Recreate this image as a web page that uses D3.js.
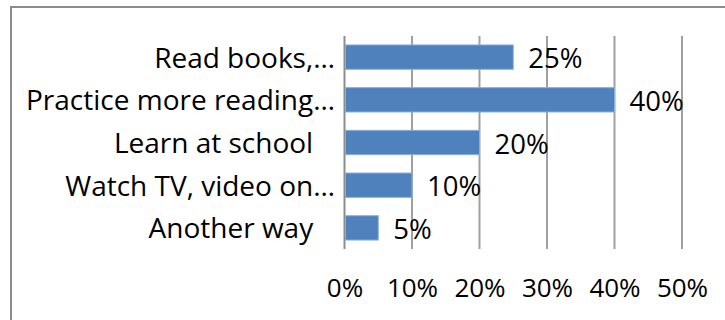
<!DOCTYPE html>
<html>
<head>
<meta charset="utf-8">
<script src="https://cdn.jsdelivr.net/npm/d3@7"></script>
<style>
  html, body { margin: 0; padding: 0; background: #fff; }
  svg { display: block; font-family: "Open Sans", Lato, "Liberation Sans", sans-serif; }
  text { white-space: pre; }
</style>
</head>
<body>
<svg id="chart" width="725" height="320"></svg>
<script>
// Answers to "How do you improve your reading?"
const categories = [
  "Read books,\u2026",
  "Practice more reading\u2026",
  "Learn at school   ",
  "Watch TV, video on\u2026",
  "Another way   "
];
const shares = [0.25, 0.40, 0.20, 0.10, 0.05];
const tickValues = [0, 0.1, 0.2, 0.3, 0.4, 0.5];

const svg = d3.select("#chart");
const labelSize = 28;
const valueSize = 27.5;
const tickSize = 26;

// outer frame (top and left edges visible)
svg.append("path")
  .attr("d", "M11,320 V7 H725")
  .attr("fill", "none")
  .attr("stroke", "#8c8c8c")
  .attr("stroke-width", 2);

const x = d3.scaleLinear().domain([0, 0.5]).range([344.5, 682]);
const y = d3.scaleBand().domain(categories).range([36, 249])
  .paddingInner(0.43).paddingOuter(0.21);

// vertical gridlines
svg.append("g")
  .selectAll("line")
  .data(tickValues)
  .join("line")
  .attr("x1", d => x(d)).attr("x2", d => x(d))
  .attr("y1", 36).attr("y2", 249)
  .attr("stroke", d => d === 0 ? "#8c8c8c" : "#a0a0a0")
  .attr("stroke-width", 2);

const rows = categories.map((c, i) => ({ c, v: shares[i] }));

// bars
svg.append("g")
  .selectAll("rect")
  .data(rows)
  .join("rect")
  .attr("x", x(0) + 1)
  .attr("y", d => y(d.c))
  .attr("width", d => x(d.v) - x(0) - 1)
  .attr("height", y.bandwidth())
  .attr("fill", "#4f81bd")
  .attr("stroke", "#8aaedb")
  .attr("stroke-width", 1);

// category labels
svg.append("g")
  .selectAll("text")
  .data(rows)
  .join("text")
  .attr("x", 335)
  .attr("y", d => y(d.c) + y.bandwidth() / 2 + 10.5)
  .attr("text-anchor", "end")
  .attr("font-size", labelSize)
  .attr("fill", "#000")
  .text(d => d.c);

// value labels
const pct = d3.format(".0%");
svg.append("g")
  .selectAll("text")
  .data(rows)
  .join("text")
  .attr("x", d => x(d.v) + 15)
  .attr("y", d => y(d.c) + y.bandwidth() / 2 + 11)
  .attr("font-size", valueSize)
  .attr("fill", "#000")
  .text(d => pct(d.v));

// x axis tick labels
const axis = d3.axisBottom(x).tickValues(tickValues).tickFormat(pct).tickSize(0);
const gx = svg.append("g").attr("transform", "translate(0,270)").call(axis);
gx.select(".domain").remove();
gx.selectAll("text")
  .attr("font-size", tickSize)
  .attr("font-family", "'Open Sans', Lato, 'Liberation Sans', sans-serif")
  .attr("fill", "#000")
  .attr("dy", 0)
  .attr("y", 26.7);
</script>
</body>
</html>
